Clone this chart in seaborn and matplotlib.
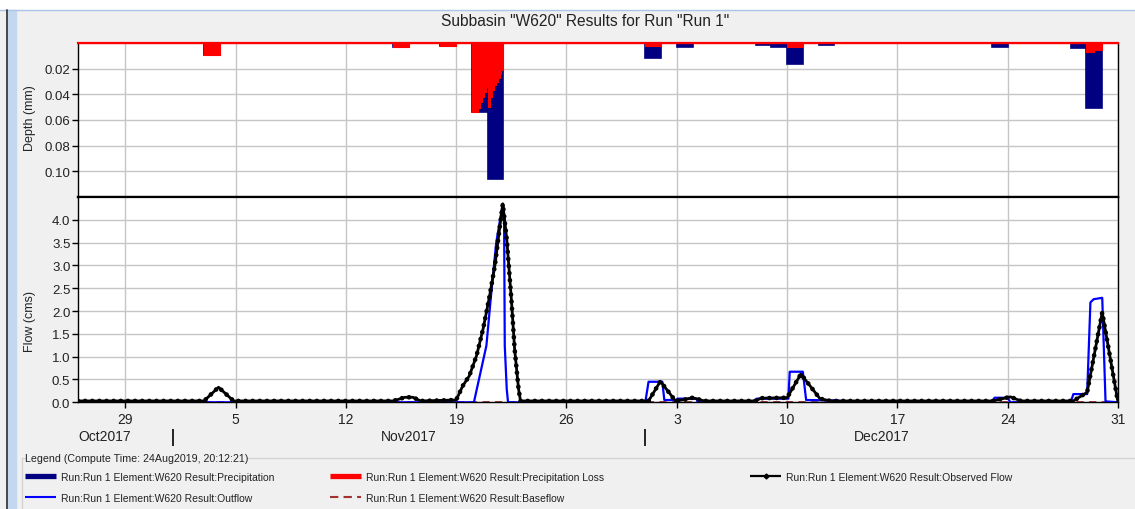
import matplotlib
matplotlib.use("Agg")
import matplotlib.pyplot as plt
import matplotlib.dates as mdates
import matplotlib.transforms as mtransforms
from matplotlib.lines import Line2D
from matplotlib.patches import Rectangle
import pandas as pd
import seaborn as sns

# ---------------- data ----------------
title = 'Subbasin "W620" Results for Run "Run 1"'
x_start, x_end = "2017-10-26", "2017-12-31"

tick_dates = ["2017-10-29", "2017-11-05", "2017-11-12", "2017-11-19", "2017-11-26",
              "2017-12-03", "2017-12-10", "2017-12-17", "2017-12-24", "2017-12-31"]
tick_labels = ["29", "5", "12", "19", "26", "3", "10", "17", "24", "31"]
month_starts = ["2017-11-01", "2017-12-01"]
month_labels = ["Oct2017", "Nov2017", "Dec2017"]

depth_ticks = [0.02, 0.04, 0.06, 0.08, 0.10]
flow_ticks = [0.0, 0.5, 1.0, 1.5, 2.0, 2.5, 3.0, 3.5, 4.0]

# daily precipitation (mm)
precip_day = ["2017-11-03", "2017-11-15", "2017-11-18", "2017-11-20", "2017-11-21",
              "2017-12-01", "2017-12-03", "2017-12-08", "2017-12-09", "2017-12-10",
              "2017-12-12", "2017-12-23", "2017-12-28", "2017-12-29"]
precip_mm = [0.009, 0.0035, 0.002, 0.054, 0.106,
             0.012, 0.003, 0.0015, 0.0028, 0.0165,
             0.0015, 0.0028, 0.004, 0.0506]

# precipitation loss (mm), step series
loss_time = ["2017-10-26 00:00", "2017-11-03 00:00", "2017-11-04 00:00", "2017-11-15 00:00",
             "2017-11-16 00:00", "2017-11-18 00:00", "2017-11-19 00:00", "2017-11-20 00:00",
             "2017-11-20 09:00", "2017-11-20 12:00", "2017-11-20 15:00", "2017-11-20 18:00",
             "2017-11-20 21:00", "2017-11-21 00:00", "2017-11-21 03:00", "2017-11-21 06:00",
             "2017-11-21 09:00", "2017-11-21 12:00", "2017-11-21 15:00", "2017-11-21 18:00",
             "2017-11-21 21:00", "2017-11-22 00:00", "2017-12-01 00:00", "2017-12-02 00:00",
             "2017-12-10 00:00", "2017-12-11 00:00", "2017-12-29 00:00", "2017-12-29 12:00",
             "2017-12-30 00:00", "2017-12-31 00:00"]
loss_mm = [0, 0.009, 0, 0.0035,
           0, 0.002, 0, 0.054,
           0.051, 0.046, 0.042, 0.038,
           0.034, 0.050, 0.042, 0.037,
           0.033, 0.030, 0.027, 0.024,
           0.021, 0, 0.0025, 0,
           0.0035, 0, 0.0072, 0.0058,
           0, 0]

# observed flow (cms)
obs_time = ["2017-10-26 00:00", "2017-11-03 00:00", "2017-11-03 22:00", "2017-11-04 21:00",
            "2017-11-15 00:00", "2017-11-15 18:00", "2017-11-16 06:00", "2017-11-16 18:00",
            "2017-11-19 00:00", "2017-11-19 10:00", "2017-11-19 20:00", "2017-11-20 07:00",
            "2017-11-20 17:00", "2017-11-20 22:00", "2017-11-21 03:00", "2017-11-21 11:00",
            "2017-11-21 18:00", "2017-11-21 23:00", "2017-11-22 05:00", "2017-11-22 12:00",
            "2017-11-22 17:00", "2017-11-22 23:00", "2017-11-23 02:00", "2017-12-01 05:00",
            "2017-12-01 23:00", "2017-12-02 22:00", "2017-12-03 12:00", "2017-12-04 00:00",
            "2017-12-04 18:00", "2017-12-08 00:00", "2017-12-08 08:00", "2017-12-10 00:00",
            "2017-12-10 21:00", "2017-12-12 02:00", "2017-12-12 18:00", "2017-12-23 02:00",
            "2017-12-24 04:00", "2017-12-24 20:00", "2017-12-28 04:00", "2017-12-29 01:00",
            "2017-12-30 00:00", "2017-12-31 00:00"]
obs_cms = [0.03, 0.03, 0.33, 0.03,
           0.03, 0.11, 0.11, 0.03,
           0.05, 0.36, 0.58, 1.02,
           1.61, 1.97, 2.34, 3.0,
           3.8, 4.35, 3.58, 2.27,
           1.17, 0.29, 0.03, 0.03,
           0.46, 0.03, 0.06, 0.10,
           0.03, 0.03, 0.09, 0.10,
           0.62, 0.08, 0.03, 0.03,
           0.12, 0.03, 0.03, 0.22,
           1.97, 0.0]

# simulated outflow (cms)
out_time = ["2017-10-26 00:00", "2017-11-20 03:00", "2017-11-20 22:00", "2017-11-21 06:00",
            "2017-11-21 13:00", "2017-11-21 23:00", "2017-11-22 01:00", "2017-11-22 02:00",
            "2017-11-22 05:00", "2017-11-22 07:00", "2017-12-01 00:00", "2017-12-01 05:00",
            "2017-12-02 02:00", "2017-12-02 05:00", "2017-12-03 00:00", "2017-12-03 01:00",
            "2017-12-04 06:00", "2017-12-04 08:00", "2017-12-07 18:00", "2017-12-08 02:00",
            "2017-12-10 02:00", "2017-12-10 04:00", "2017-12-11 00:00", "2017-12-11 05:00",
            "2017-12-13 06:00", "2017-12-13 10:00", "2017-12-23 00:00", "2017-12-23 04:00",
            "2017-12-24 00:00", "2017-12-24 04:00", "2017-12-28 00:00", "2017-12-28 04:00",
            "2017-12-29 01:00", "2017-12-29 06:00", "2017-12-29 11:00", "2017-12-30 00:00",
            "2017-12-30 05:00", "2017-12-31 00:00"]
out_cms = [0, 0, 1.24, 2.48,
           3.5, 4.35, 3.95, 1.24,
           0.29, 0.0, 0.0, 0.45,
           0.45, 0.05, 0.05, 0.08,
           0.08, 0.0, 0.0, 0.08,
           0.08, 0.67, 0.67, 0.05,
           0.04, 0.0, 0.0, 0.10,
           0.10, 0.0, 0.0, 0.18,
           0.18, 2.19, 2.26, 2.29,
           0.02, 0.0]

# baseflow (cms)
base_time = ["2017-10-26 00:00", "2017-12-31 00:00"]
base_cms = [0.0, 0.0]

legend_title = "Legend (Compute Time: 24Aug2019, 20:12:21)"
lab_pre = "Run:Run 1 Element:W620 Result:Precipitation"
lab_loss = "Run:Run 1 Element:W620 Result:Precipitation Loss"
lab_obs = "Run:Run 1 Element:W620 Result:Observed Flow"
lab_out = "Run:Run 1 Element:W620 Result:Outflow"
lab_base = "Run:Run 1 Element:W620 Result:Baseflow"

# ---------------- style ----------------
sns.set_theme(style="white")
plt.rcParams["font.family"] = ["Liberation Sans", "DejaVu Sans"]

NAVY, RED, BLUE, BROWN = "#000080", "#ff0000", "#0000ff", "#a03232"
GRID = "#c6c6c6"
BG = "#f0f0f0"
TXT = "#222222"

W, H = 1135, 510
fig = plt.figure(figsize=(W / 100, H / 100), dpi=100, facecolor=BG)

def fx(px):
    return px / W

def fy(py):
    return 1 - py / H

# window chrome
fig.patches.append(Rectangle((0, fy(10)), 1, 10 / H, transform=fig.transFigure,
                             color="white", zorder=0))
fig.add_artist(Line2D([0, 1], [fy(10.5), fy(10.5)], color="#a9c6e8", lw=1))
fig.add_artist(Line2D([fx(6.8), fx(6.8)], [0, fy(10.5)], color="#3a3a3a", lw=1.3))
fig.patches.append(Rectangle((fx(8), 0), 8 / W, fy(11), transform=fig.transFigure,
                             color="#c3d7ef", zorder=0))

L, R = 78, 1118
T1, B1, B2 = 44, 198, 403.3
ax1 = fig.add_axes([fx(L), fy(B1), (R - L) / W, (B1 - T1) / H])
ax2 = fig.add_axes([fx(L), fy(B2), (R - L) / W, (B2 - B1) / H], sharex=ax1)

xs, xe = pd.Timestamp(x_start), pd.Timestamp(x_end)
ticks = pd.to_datetime(tick_dates)

for ax in (ax1, ax2):
    ax.set_facecolor("white")
    ax.set_axisbelow(True)
    ax.grid(True, color=GRID, lw=1)
    for s in ax.spines.values():
        s.set_color("black")
        s.set_linewidth(1.0)

# ---------------- top: depth ----------------
pdays = pd.to_datetime(precip_day)
ax1.bar(pdays, precip_mm, width=1.0, align="edge", color=NAVY, edgecolor=NAVY,
        linewidth=1.2, zorder=2)
lt = pd.to_datetime(loss_time)
ax1.fill_between(lt, loss_mm, 0, step="post", color=RED, edgecolor=RED,
                 linewidth=0.8, zorder=3)
ax1.set_ylim(0.12, 0)
ax1.set_yticks(depth_ticks)
ax1.set_yticklabels([f"{v:.2f}" for v in depth_ticks])
ax1.set_xlim(xs, xe)
ax1.spines["top"].set_color(RED)
ax1.spines["top"].set_linewidth(1.6)
ax1.spines["top"].set_zorder(5)
ax1.spines["bottom"].set_linewidth(1.6)
ax1.tick_params(axis="x", bottom=False, labelbottom=False)
ax1.tick_params(axis="y", left=True, length=4, width=1, color="black", pad=1.5,
                labelsize=9.5, labelcolor=TXT)

# ---------------- bottom: flow ----------------
base_df = pd.DataFrame({"t": pd.to_datetime(base_time), "v": base_cms})
out_df = pd.DataFrame({"t": pd.to_datetime(out_time), "v": out_cms})
obs_df = pd.DataFrame({"t": pd.to_datetime(obs_time), "v": obs_cms})

sns.lineplot(data=base_df, x="t", y="v", ax=ax2, color=BROWN, lw=1.3,
             linestyle=(0, (4, 3)), estimator=None, zorder=2)
sns.lineplot(data=out_df, x="t", y="v", ax=ax2, color=BLUE, lw=1.6,
             estimator=None, zorder=3)
sns.lineplot(data=obs_df, x="t", y="v", ax=ax2, color="black", lw=2.0,
             estimator=None, zorder=4)
sns.lineplot(data=obs_df, x="t", y="v", ax=ax2, color="black", lw=3.4,
             linestyle=(0, (0.01, 1.5)), dash_capstyle="round",
             estimator=None, zorder=5)

ax2.set_ylim(0, 4.5)
ax2.set_yticks(flow_ticks)
ax2.set_yticklabels([f"{v:.1f}" for v in flow_ticks])
ax2.set_xlim(xs, xe)
ax2.set_xticks(ticks)
ax2.set_xticklabels(tick_labels)
ax2.set_xlabel("")
ax2.set_ylabel("")
ax2.spines["top"].set_linewidth(1.6)
ax2.tick_params(axis="y", left=True, length=4, width=1, color="black", pad=1.5,
                labelsize=9.5, labelcolor=TXT)
ax2.tick_params(axis="x", bottom=True, length=4, width=1, color="black", pad=3,
                labelsize=10, labelcolor=TXT)
ax1.set_ylabel("")

# month separators and labels
sec = ax2.secondary_xaxis(location=-(430 - B2) / (B2 - B1))
sec.set_xticks(mdates.date2num(pd.to_datetime(month_starts)))
sec.set_xticklabels([])
sec.tick_params(axis="x", length=12.5, width=1.2, color="black", direction="out")
sec.spines["bottom"].set_visible(False)

trans = mtransforms.blended_transform_factory(ax2.transData, ax2.transAxes)
ym = -(437.5 - B2) / (B2 - B1)
ms = pd.to_datetime(month_starts)
ax2.text(xs, ym, month_labels[0], transform=trans, ha="left", va="center",
         fontsize=10, color=TXT)
ax2.text(ms[0] + (ms[1] - ms[0]) / 2, ym, month_labels[1], transform=trans,
         ha="center", va="center", fontsize=10, color=TXT)
ax2.text(ms[1] + (xe - ms[1]) / 2, ym, month_labels[2], transform=trans,
         ha="center", va="center", fontsize=10, color=TXT)

# titles and axis labels
fig.text(fx(585), fy(22), title, ha="center", va="center", fontsize=11.2, color=TXT)
fig.text(fx(30), fy(118), "Depth (mm)", rotation=90, ha="center", va="center",
         fontsize=9, color=TXT)
fig.text(fx(30), fy(322), "Flow (cms)", rotation=90, ha="center", va="center",
         fontsize=9, color=TXT)

# legend group box
fig.add_artist(Line2D([fx(22), fx(22)], [0, fy(458.5)], color="#d4d4d4", lw=1))
fig.add_artist(Line2D([fx(22), fx(25)], [fy(458.5), fy(458.5)], color="#d4d4d4", lw=1))
fig.add_artist(Line2D([fx(247), 1], [fy(458.5), fy(458.5)], color="#d4d4d4", lw=1))
fig.text(fx(25), fy(459), legend_title, ha="left", va="center", fontsize=7.7,
         color=TXT)

h_pre = Line2D([], [], color=NAVY, lw=3.8, solid_capstyle="butt")
h_out = Line2D([], [], color=BLUE, lw=1.5, solid_capstyle="butt")
h_loss = Line2D([], [], color=RED, lw=3.8, solid_capstyle="butt")
h_base = Line2D([], [], color=BROWN, lw=1.5, linestyle=(0, (4, 2.5)))
h_obs = Line2D([], [], color="black", lw=1.6, marker="D", markersize=2.5,
               solid_capstyle="butt")

cols = [((h_pre, h_out), (lab_pre, lab_out), 25),
        ((h_loss, h_base), (lab_loss, lab_base), 330),
        ((h_obs,), (lab_obs,), 750)]
for hs, ls, xp in cols:
    leg = fig.legend(hs, ls, loc="upper left", bbox_to_anchor=(fx(xp), fy(473)),
                     frameon=False, fontsize=7.5, handlelength=3.0, handletextpad=0.5,
                     labelspacing=1.05, borderpad=0, borderaxespad=0)
    for t in leg.get_texts():
        t.set_color(TXT)

fig.savefig("out.png", dpi=100, facecolor=BG)
